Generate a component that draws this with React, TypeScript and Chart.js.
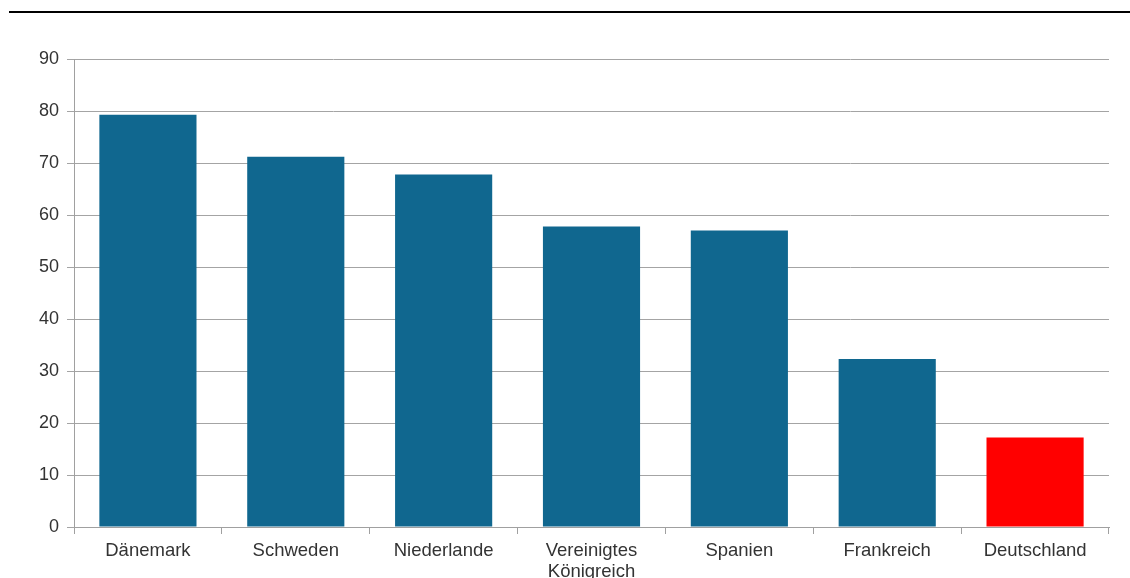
import React, { useEffect, useRef } from "react";
import { Chart, registerables } from "chart.js";

Chart.register(...registerables);

// Länder und Anteile
const countries: (string | string[])[] = [
  "Dänemark",
  "Schweden",
  "Niederlande",
  ["Vereinigtes", "Königreich"],
  "Spanien",
  "Frankreich",
  "Deutschland",
];
const shares = [79.3, 71.2, 67.8, 57.8, 57.0, 32.3, 17.2];
const barColors = ["#10678f", "#10678f", "#10678f", "#10678f", "#10678f", "#10678f", "#ff0000"];

const yMin = 0;
const yMax = 90;
const yStep = 10;

const W = 1130;
const H = 578;

export default function App() {
  const canvasRef = useRef<HTMLCanvasElement | null>(null);

  useEffect(() => {
    const canvas = canvasRef.current;
    if (!canvas) return;
    const chart = new Chart(canvas, {
      type: "bar",
      data: {
        labels: countries,
        datasets: [
          {
            data: shares,
            backgroundColor: barColors,
            borderWidth: 0,
            categoryPercentage: 0.657,
            barPercentage: 1,
          },
        ],
      },
      options: {
        responsive: false,
        animation: false,
        devicePixelRatio: 1,
        layout: { padding: { top: 59, right: 21, left: 0, bottom: 0 } },
        plugins: {
          legend: { display: false },
          tooltip: { enabled: false },
        },
        scales: {
          x: {
            offset: true,
            grid: {
              offset: true,
              drawOnChartArea: false,
              drawTicks: true,
              tickLength: 7,
              color: "#a0a0a0",
              lineWidth: 1,
            },
            border: { display: true, color: "#a0a0a0", width: 1 },
            ticks: {
              color: "#333333",
              font: { family: "'Liberation Sans', Arial, sans-serif", size: 18.5, lineHeight: 1.15 },
              padding: 6,
              maxRotation: 0,
              autoSkip: false,
            },
            afterFit: (scale: any) => {
              scale.height = 51;
            },
          },
          y: {
            min: yMin,
            max: yMax,
            ticks: {
              stepSize: yStep,
              color: "#333333",
              font: { family: "'Liberation Sans', Arial, sans-serif", size: 18 },
              padding: 8,
            },
            grid: {
              color: "#a4a4a4",
              lineWidth: 1,
              drawTicks: true,
              tickLength: 7,
            },
            border: { display: true, color: "#a0a0a0", width: 1 },
            afterFit: (scale: any) => {
              scale.width = 74;
            },
          },
        },
      },
    });
    return () => chart.destroy();
  }, []);

  return (
    <div style={{ position: "fixed", left: 0, top: 0, width: W, height: H, background: "#ffffff" }}>
      <div
        style={{
          position: "absolute",
          left: 9,
          top: 11,
          width: W - 9,
          height: 2,
          background: "#000000",
        }}
      />
      <canvas ref={canvasRef} width={W} height={H} style={{ position: "absolute", left: 0, top: 0 }} />
    </div>
  );
}
